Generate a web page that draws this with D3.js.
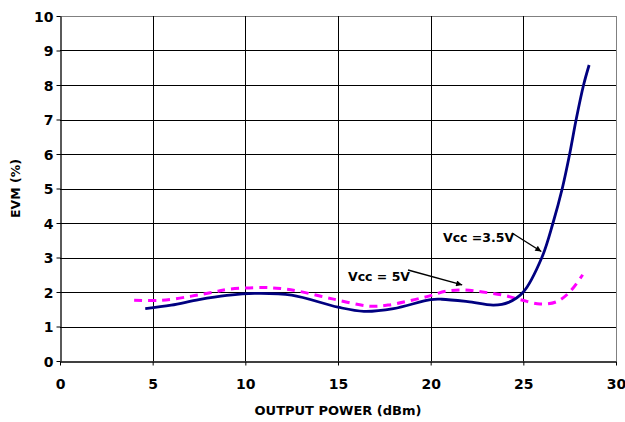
<!DOCTYPE html>
<html>
<head>
<meta charset="utf-8">
<script src="https://cdn.jsdelivr.net/npm/d3@7"></script>
<style>
body { margin: 0; background: #fff; }
svg text { font-family: "DejaVu Sans", sans-serif; font-weight: bold; fill: #000; }
</style>
</head>
<body>
<div id="chart"></div>
<script>
// Vcc = 3.5V (solid navy)
var powerA = [4.6, 6, 7.5, 9, 10.5, 12.5, 15, 16.4, 18, 20, 20.6, 22, 23.4, 24.2, 25, 26, 26.6, 27.1, 27.5, 27.85, 28.25, 28.55];
var evmA   = [1.52, 1.62, 1.78, 1.9, 1.96, 1.91, 1.56, 1.44, 1.52, 1.78, 1.79, 1.72, 1.62, 1.7, 2.0, 3.0, 4.0, 5.0, 6.0, 7.0, 8.0, 8.58];

// Vcc = 5V (dashed magenta)
var powerB = [4.0, 5.5, 7.1, 8.3, 9.1, 10.9, 11.9, 12.8, 14.7, 16.7, 17.7, 18.8, 19.9, 20.8, 21.8, 22.8, 23.9, 24.9, 25.9, 26.8, 27.5, 28.2];
var evmB   = [1.76, 1.76, 1.88, 2.0, 2.08, 2.13, 2.1, 2.03, 1.8, 1.59, 1.62, 1.74, 1.88, 2.02, 2.06, 2.0, 1.91, 1.77, 1.65, 1.72, 2.0, 2.5];

var xTicks = [0, 5, 10, 15, 20, 25, 30];
var yTicks = [0, 1, 2, 3, 4, 5, 6, 7, 8, 9, 10];

var labels = [
    { text: "Vcc = 5V", tx: 348, ty: 281, x0: 408, y0: 270, px: 21.7, py: 2.03 },
    { text: "Vcc =3.5V", tx: 443, ty: 242, x0: 512, y0: 233, px: 25.97, py: 3.0 }
];

var width = 625, height = 422;
var margin = { top: 16, right: 9, bottom: 61, left: 60 };

var svg = d3.select("#chart").append("svg")
    .attr("width", width)
    .attr("height", height);

var x = d3.scaleLinear().domain([0, 30]).range([margin.left, width - margin.right]);
var y = d3.scaleLinear().domain([0, 10]).range([height - margin.bottom, margin.top]);

// grid
svg.append("g").selectAll("line.h")
    .data(yTicks.filter(d => d > 0))
    .enter().append("line")
    .attr("x1", x(0)).attr("x2", x(30))
    .attr("y1", d => Math.round(y(d)) + 0.5).attr("y2", d => Math.round(y(d)) + 0.5)
    .attr("stroke", d => d == 10 ? "#808080" : "#000")
    .attr("stroke-width", 1);

svg.append("g").selectAll("line.v")
    .data(xTicks.filter(d => d > 0))
    .enter().append("line")
    .attr("x1", d => Math.round(x(d)) + 0.5).attr("x2", d => Math.round(x(d)) + 0.5)
    .attr("y1", y(0)).attr("y2", y(10))
    .attr("stroke", d => d == 30 ? "#808080" : "#000")
    .attr("stroke-width", 1);

// axes
var xAxis = svg.append("g")
    .attr("transform", "translate(0," + (Math.round(y(0)) + 0.5) + ")")
    .call(d3.axisBottom(x).tickValues(xTicks).tickSize(4).tickSizeOuter(0).tickPadding(14));
var yAxis = svg.append("g")
    .attr("transform", "translate(" + (Math.round(x(0)) + 0.5) + ",0)")
    .call(d3.axisLeft(y).tickValues(yTicks).tickSize(4).tickSizeOuter(0).tickPadding(3));

[xAxis, yAxis].forEach(function (a) {
    a.attr("font-family", null).attr("font-size", null);
    a.select(".domain").attr("stroke", "#000").attr("stroke-width", 1.3);
    a.selectAll(".tick line").attr("stroke", "#000");
    a.selectAll(".tick text").style("font-size", "14px");
});
yAxis.selectAll(".tick text").attr("dy", "0.36em");

// titles
svg.append("text")
    .attr("x", (x(0) + x(30)) / 2).attr("y", 415)
    .attr("text-anchor", "middle")
    .style("font-size", "13px")
    .text("OUTPUT POWER (dBm)");

svg.append("text")
    .attr("transform", "translate(20," + ((y(0) + y(10)) / 2) + ") rotate(-90)")
    .attr("text-anchor", "middle")
    .style("font-size", "12.5px")
    .text("EVM (%)");

// curves
var line = d3.line()
    .x(d => x(d[0]))
    .y(d => y(d[1]))
    .curve(d3.curveCatmullRom.alpha(0.5));

svg.append("path")
    .datum(powerB.map((p, i) => [p, evmB[i]]))
    .attr("d", line)
    .attr("fill", "none")
    .attr("stroke", "#ff00ff")
    .attr("stroke-width", 3)
    .attr("stroke-dasharray", "8,6");

svg.append("path")
    .datum(powerA.map((p, i) => [p, evmA[i]]))
    .attr("d", line)
    .attr("fill", "none")
    .attr("stroke", "#000080")
    .attr("stroke-width", 2.8);

// annotations
svg.append("defs").append("marker")
    .attr("id", "arrow")
    .attr("viewBox", "0 0 10 10")
    .attr("refX", 10).attr("refY", 5)
    .attr("markerWidth", 9).attr("markerHeight", 6)
    .attr("markerUnits", "userSpaceOnUse")
    .attr("orient", "auto")
    .append("path")
    .attr("d", "M0,0 L10,5 L0,10 z")
    .attr("fill", "#000");

labels.forEach(function (l) {
    svg.append("line")
        .attr("x1", l.x0).attr("y1", l.y0)
        .attr("x2", x(l.px)).attr("y2", y(l.py) - 6)
        .attr("stroke", "#000")
        .attr("stroke-width", 1.3)
        .attr("marker-end", "url(#arrow)");
    svg.append("text")
        .attr("x", l.tx).attr("y", l.ty)
        .style("font-size", "12.5px")
        .text(l.text);
});
</script>
</body>
</html>
